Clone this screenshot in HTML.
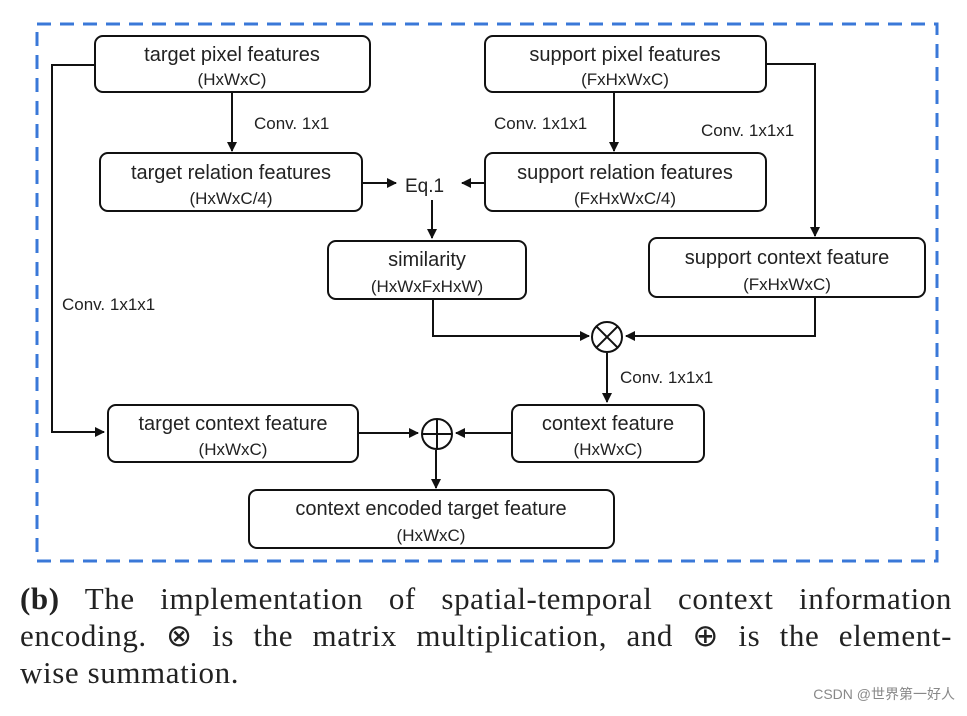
<!DOCTYPE html>
<html><head><meta charset="utf-8"><style>
body{margin:0;width:967px;height:716px;background:#fff;overflow:hidden;position:relative;font-family:"Liberation Sans",sans-serif}
.cap{position:absolute;left:20px;top:580px;width:932px;font-family:"Liberation Serif",serif;font-size:31px;line-height:37px;color:#222;letter-spacing:0.6px}
.cap div{text-align:justify;text-align-last:justify;white-space:nowrap}
.cap div.l{text-align-last:left}
.wm{position:absolute;right:12px;top:684px;font-size:14px;color:#888;font-family:"Liberation Sans","Noto Sans CJK SC",sans-serif}
</style></head><body>
<svg width="967" height="580" style="position:absolute;left:0;top:0" font-family="Liberation Sans, sans-serif">
<defs><marker id="a" markerWidth="10" markerHeight="10" refX="9" refY="5" orient="auto" markerUnits="userSpaceOnUse"><path d="M0,0 L10,5 L0,10 z" fill="#111"/></marker></defs>
<rect x="37" y="24" width="900" height="537" fill="none" stroke="#3a78d8" stroke-width="3" stroke-dasharray="14,9"/>
<g fill="#fff" stroke="#111" stroke-width="2">
<rect x="95" y="36" width="275" height="56" rx="8"/>
<rect x="485" y="36" width="281" height="56" rx="8"/>
<rect x="100" y="153" width="262" height="58" rx="8"/>
<rect x="485" y="153" width="281" height="58" rx="8"/>
<rect x="328" y="241" width="198" height="58" rx="8"/>
<rect x="649" y="238" width="276" height="59" rx="8"/>
<rect x="108" y="405" width="250" height="57" rx="8"/>
<rect x="512" y="405" width="192" height="57" rx="8"/>
<rect x="249" y="490" width="365" height="58" rx="8"/>
</g>
<g fill="none" stroke="#111" stroke-width="2">
<polyline points="95,65 52,65 52,432 104,432" marker-end="url(#a)"/>
<polyline points="766,64 815,64 815,236" marker-end="url(#a)"/>
<line x1="232" y1="92" x2="232" y2="151" marker-end="url(#a)"/>
<line x1="614" y1="92" x2="614" y2="151" marker-end="url(#a)"/>
<line x1="362" y1="183" x2="396" y2="183" marker-end="url(#a)"/>
<line x1="485" y1="183" x2="462" y2="183" marker-end="url(#a)"/>
<line x1="432" y1="200" x2="432" y2="238" marker-end="url(#a)"/>
<polyline points="433,299 433,336 589,336" marker-end="url(#a)"/>
<polyline points="815,297 815,336 626,336" marker-end="url(#a)"/>
<line x1="607" y1="353" x2="607" y2="402" marker-end="url(#a)"/>
<line x1="358" y1="433" x2="418" y2="433" marker-end="url(#a)"/>
<line x1="512" y1="433" x2="456" y2="433" marker-end="url(#a)"/>
<line x1="436" y1="450" x2="436" y2="488" marker-end="url(#a)"/>
<circle cx="607" cy="337" r="15"/><line x1="596.4" y1="326.4" x2="617.6" y2="347.6"/><line x1="617.6" y1="326.4" x2="596.4" y2="347.6"/>
<circle cx="437" cy="434" r="15"/><line x1="422" y1="434" x2="452" y2="434"/><line x1="437" y1="419" x2="437" y2="449"/>
</g>
<g fill="#222" text-anchor="middle" font-size="20">
<text x="232" y="61">target pixel features</text><text x="232" y="85" font-size="17">(HxWxC)</text>
<text x="625" y="61">support pixel features</text><text x="625" y="85" font-size="17">(FxHxWxC)</text>
<text x="231" y="179">target relation features</text><text x="231" y="204" font-size="17">(HxWxC/4)</text>
<text x="625" y="179">support relation features</text><text x="625" y="204" font-size="17">(FxHxWxC/4)</text>
<text x="427" y="266">similarity</text><text x="427" y="292" font-size="17">(HxWxFxHxW)</text>
<text x="787" y="264">support context feature</text><text x="787" y="290" font-size="17">(FxHxWxC)</text>
<text x="233" y="430">target context feature</text><text x="233" y="455" font-size="17">(HxWxC)</text>
<text x="608" y="430">context feature</text><text x="608" y="455" font-size="17">(HxWxC)</text>
<text x="431" y="515">context encoded target feature</text><text x="431" y="541" font-size="17">(HxWxC)</text>
</g>
<g fill="#222" font-size="17">
<text x="254" y="129">Conv. 1x1</text>
<text x="494" y="129">Conv. 1x1x1</text>
<text x="701" y="136">Conv. 1x1x1</text>
<text x="62" y="310">Conv. 1x1x1</text>
<text x="620" y="383">Conv. 1x1x1</text>
<text x="405" y="192" font-size="19">Eq.1</text>
</g>
</svg>
<div class="cap">
<div><b>(b)</b> The implementation of spatial-temporal context information</div>
<div>encoding. ⊗ is the matrix multiplication, and ⊕ is the element-</div>
<div class="l">wise summation.</div>
</div>
<div class="wm">CSDN @世界第一好人</div>
</body></html>
